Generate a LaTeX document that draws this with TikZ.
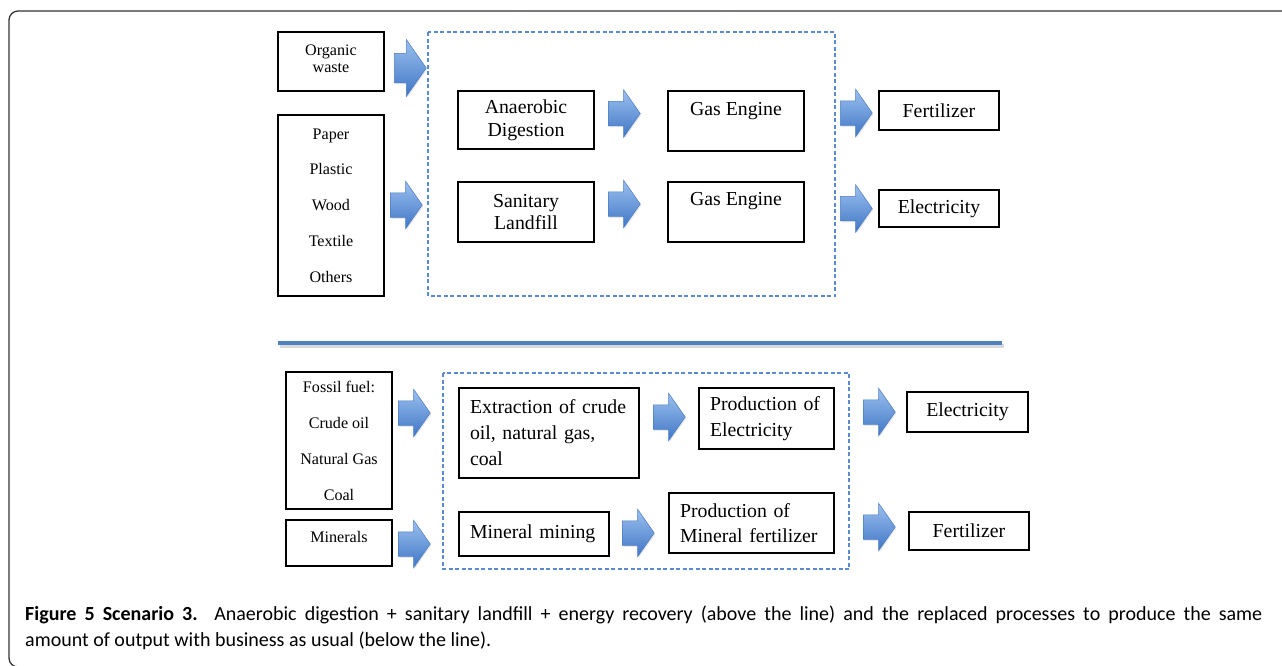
\documentclass[tikz,border=0pt]{standalone}
\usepackage{fontspec}
\setmainfont{Liberation Serif}
\newfontfamily\capfont{Carlito}
\usetikzlibrary{shapes.arrows,shadows}
\definecolor{lineblue}{HTML}{4F81BD}
\definecolor{dashblue}{HTML}{5A8BD0}
\definecolor{arrtop}{HTML}{9CC0EE}
\definecolor{arrbot}{HTML}{3F76C6}
\definecolor{arredge}{HTML}{4A7DC4}
\tikzset{
  box/.style={draw=black, line width=1.1pt, inner sep=0pt, fill=white},
  bigf/.style={font=\fontsize{19.8}{#1}\selectfont},
  smallf/.style={font=\fontsize{16.1}{#1}\selectfont},
  lbox/.style={box, align=left, inner xsep=11pt},
  dbox/.style={draw=dashblue, line width=1.1pt, dash pattern=on 4pt off 2.5pt},
  barrow/.style={single arrow, single arrow tip angle=110, inner xsep=0pt, inner ysep=12pt,
    minimum height=32pt, minimum width=47pt, single arrow head extend=11.5pt,
    top color=arrtop, bottom color=arrbot, draw=arredge, line width=0.5pt,
    anchor=tail, drop shadow={opacity=0.18, shadow xshift=1pt, shadow yshift=-1.5pt}},
  barrowL/.style={barrow, inner ysep=14.5pt, minimum width=56pt, single arrow head extend=13.5pt},
}
\begin{document}
\begin{tikzpicture}[x=1pt,y=-1pt]
\useasboundingbox (0,0) rectangle (1282,665);
% outer frame
\draw[line width=1.3pt, draw=black!80, rounded corners=9pt] (60,667) -- (9,667) -- (9,11) -- (1300,11);

% ---------- top part ----------
\draw[dbox] (428,32) rectangle (835,296);
\node[box, smallf=17.5, align=center, minimum width=106pt, minimum height=59pt] (org) at (331,61.5) {\raisebox{3pt}[\height][\depth]{Organic}\\\raisebox{3pt}[\height][\depth]{waste}};
\node[box, smallf=35.7, align=center, minimum width=106pt, minimum height=181pt] (pap) at (331,205.5) {Paper\\Plastic\\Wood\\Textile\\Others};
\node[box, bigf=23, align=center, minimum width=136pt, minimum height=58pt] (ad) at (526,120) {Anaerobic\\Digestion};
\node[box, bigf=22, align=center, minimum width=136pt, minimum height=60pt] (sl) at (526,212) {Sanitary\\Landfill};
\node[box, bigf=23, minimum width=136pt, minimum height=60pt] (ge1) at (736,121) {\raisebox{10pt}[\height][\depth]{Gas Engine}};
\node[box, bigf=23, minimum width=136pt, minimum height=60pt] (ge2) at (736,212) {\raisebox{11pt}[\height][\depth]{Gas Engine}};
\node[box, bigf=23, minimum width=120pt, minimum height=39pt] (fert) at (939,110.5) {Fertilizer};
\node[box, bigf=23, minimum width=120pt, minimum height=37pt] (elec) at (939,208.5) {Electricity};

\node[barrowL] (a1) at (394,68) {};
\node[barrow] (a2) at (390,205) {};
\node[barrow] (a3) at (608,113.5) {};
\node[barrow] (a4) at (608,204) {};
\node[barrow] (a5) at (840,113) {};
\node[barrow] (a6) at (840,208.5) {};

% separator
\draw[line width=4pt, black, opacity=0.15] (280,345.5) -- (1004,345.5);
\draw[line width=4pt, lineblue] (278,342.5) -- (1002,342.5);

% ---------- bottom part ----------
\draw[dbox] (443,373) rectangle (849,569);
\node[box, smallf=36, align=center, minimum width=106pt, minimum height=137pt] (fos) at (339,440.5) {Fossil fuel:\\Crude oil\\Natural Gas\\Coal};
\node[box, smallf=20, minimum width=106pt, minimum height=46pt] (min) at (339,543) {\raisebox{6pt}[\height][\depth]{Minerals}};
\node[lbox, bigf=26, text width=158pt, minimum height=90pt] (ext) at (549,433) {Extraction of crude\\oil, natural gas,\\coal};
\node[lbox, bigf=26, text width=113pt, minimum height=61pt] (pel) at (766.5,418.5) {Production of\\Electricity};
\node[lbox, bigf=25, text width=128pt, minimum height=44pt] (mm) at (534,534) {Mineral mining};
\node[lbox, bigf=25, text width=143pt, minimum height=60pt] (pmf) at (751.5,523) {Production of\\Mineral fertilizer};
\node[box, bigf=23, minimum width=121pt, minimum height=40pt] (elecb) at (967.5,412) {Electricity};
\node[box, bigf=23, minimum width=120pt, minimum height=38pt] (fertb) at (969,531) {Fertilizer};

\node[barrow] (b1) at (398,413) {};
\node[barrow] (b2) at (398,544) {};
\node[barrow] (b3) at (653,417) {};
\node[barrow] (b4) at (622,533) {};
\node[barrow] (b5) at (863,412) {};
\node[barrow] (b6) at (863,527) {};

% caption
\node[anchor=base west, inner sep=0pt, font=\capfont\fontsize{20}{26}\selectfont] (cap1) at (25,620)
  {\hbox to 1237pt{\textbf{Figure 5 Scenario 3.} Anaerobic digestion + sanitary landfill + energy recovery (above the line) and the replaced processes to produce the same}};
\node[anchor=base west, inner sep=0pt, font=\capfont\fontsize{20}{26}\selectfont] (cap2) at (25,646)
  {amount of output with business as usual (below the line).};
\end{tikzpicture}
\end{document}
